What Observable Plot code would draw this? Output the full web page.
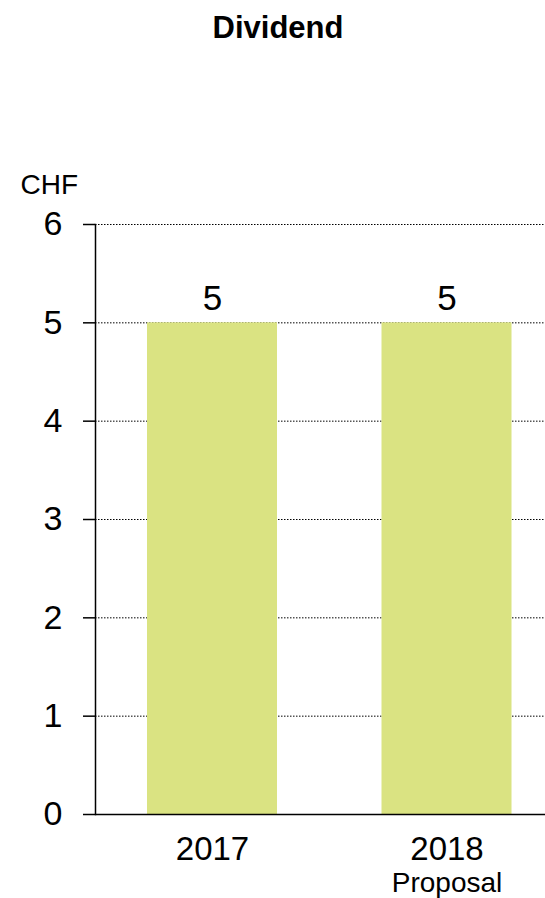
<!DOCTYPE html>
<html>
<head>
<meta charset="utf-8">
<script src="https://cdn.jsdelivr.net/npm/d3@7"></script>
<script src="https://cdn.jsdelivr.net/npm/@observablehq/plot@0.6"></script>
<style>
  body { margin: 0; background: #fff; }
  #chart { width: 545px; font-family: "Liberation Sans", Arial, sans-serif; color: #000; }
  #title {
    box-sizing: border-box;
    height: 60px;
    padding-top: 13px;
    padding-left: 11px;
    text-align: center;
    font-size: 31px;
    line-height: 30px;
    font-weight: bold;
  }
  #chart svg { display: block; }
</style>
</head>
<body>
<div id="chart">
  <div id="title">Dividend</div>
</div>
<script>
// Dividend per share, CHF
const years = ["2017", "2018"];
const dividends = [5, 5];
const yearNotes = ["", "Proposal"];
const yTicks = [0, 1, 2, 3, 4, 5, 6];
const gridTicks = [1, 2, 3, 4, 5, 6];
const unitLabel = "CHF";

const data = years.map((year, i) => ({year, value: dividends[i], note: yearNotes[i]}));

const font = '"Liberation Sans", Arial, sans-serif';

const chart = Plot.plot({
  width: 545,
  height: 838,
  marginLeft: 95,
  marginRight: 0,
  marginTop: 164,
  marginBottom: 84,
  style: {fontFamily: font, fontSize: "34px", color: "#000", background: "#fff", overflow: "visible"},
  x: {type: "band", domain: years, range: [95, 563.5], paddingInner: 0.4456, paddingOuter: 0.2217, round: false},
  y: {domain: [0, 6]},
  marks: [
    Plot.ruleY(gridTicks, {stroke: "#000", strokeWidth: 1, strokeDasharray: "1.5,1.5"}),
    Plot.barY(data, {x: "year", y: "value", fill: "#dae382"}),
    Plot.ruleY([0], {stroke: "#000", strokeWidth: 1.5}),
    Plot.frame({anchor: "left", stroke: "#000", strokeWidth: 1.5}),
    Plot.axisY({ticks: yTicks, tickFormat: d3.format("d"), tickSize: 12, tickPadding: 21, fontSize: 34, label: null, stroke: "#000", strokeWidth: 1.5}),
    Plot.axisX({tickSize: 0, tickPadding: 22, fontSize: 33, label: null}),
    Plot.text(data, {x: "year", frameAnchor: "bottom", text: "note", dy: 77, lineAnchor: "bottom", fontSize: 28}),
    Plot.text(data, {x: "year", y: "value", text: d => String(d.value), dy: -13, lineAnchor: "bottom", fontSize: 35}),
    Plot.text([unitLabel], {frameAnchor: "top-left", text: d => d, dx: -75, dy: -31, textAnchor: "start", lineAnchor: "bottom", fontSize: 28})
  ]
});

document.getElementById("chart").appendChild(chart);
</script>
</body>
</html>
